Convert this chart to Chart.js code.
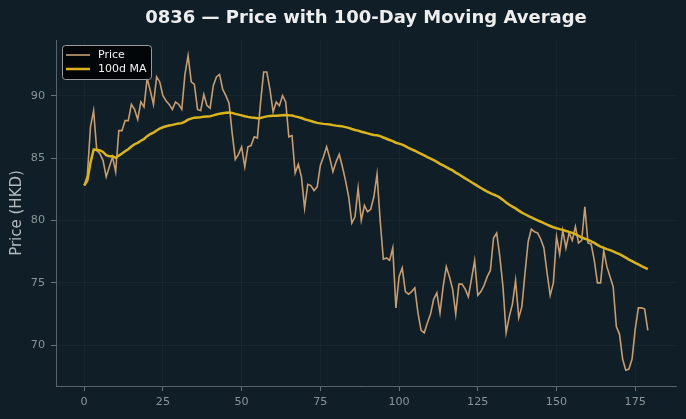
<!DOCTYPE html>
<html><head><meta charset="utf-8">
<script src="https://cdn.jsdelivr.net/npm/chart.js@4.4.1/dist/chart.umd.min.js"></script>
<style>html,body{margin:0;padding:0;background:#101f27;}#wrap{width:686px;height:419px;}</style>
</head><body><div id="wrap"><canvas id="c" width="686" height="419"></canvas></div>
<script>
const chartTitle = "0836 — Price with 100-Day Moving Average";
const yAxisLabel = "Price (HKD)";
const priceLabel = "Price";
const maLabel = "100d MA";
const xTickValues = [0, 25, 50, 75, 100, 125, 150, 175];
const yTickValues = [70, 75, 80, 85, 90];

const price = [
82.8,83.6,87.5,88.8,85.6,85.35,84.8,83.5,84.3,85.1,
83.9,87.2,87.2,88.0,88.0,89.3,88.9,88.1,89.5,89.1,
91.4,90.4,89.3,91.5,91.1,90.0,89.6,89.3,88.9,89.5,
89.3,88.9,91.7,93.2,91.1,90.9,88.9,88.8,90.1,89.2,
89.0,90.8,91.5,91.7,90.5,90.0,89.4,87.0,84.9,85.3,
85.9,84.3,85.9,86.0,86.7,86.6,89.4,91.9,91.9,90.5,
88.7,89.5,89.2,90.0,89.5,86.7,86.8,83.8,84.5,83.5,
81.0,82.9,82.8,82.4,82.7,84.4,85.1,85.9,85.0,83.9,
84.7,85.3,84.3,83.2,81.9,79.8,80.3,82.6,80.0,81.2,
80.7,80.9,81.9,83.7,80.0,76.9,77.0,76.8,77.8,73.0,
75.5,76.2,74.3,74.1,74.3,74.6,72.6,71.2,71.0,71.8,
72.5,73.7,74.2,72.6,74.7,76.3,75.5,74.5,72.5,74.9,
74.9,74.5,73.9,75.3,76.8,74.0,74.3,74.8,75.5,76.0,
78.6,79.0,77.1,74.7,71.0,72.3,73.3,75.2,72.2,73.1,
75.8,78.3,79.3,79.1,79.0,78.5,77.8,75.8,74.0,75.0,
78.7,77.3,79.2,77.8,79.0,78.4,79.5,78.2,78.4,81.1,
78.2,78.1,76.8,75.0,75.0,77.6,76.3,75.5,74.7,71.5,
70.9,68.9,68.0,68.1,68.9,71.3,73.0,73.0,72.9,71.2
];

const ma100 = [
82.80,83.20,84.63,85.68,85.66,85.61,85.49,85.24,85.14,85.14,
85.02,85.20,85.36,85.55,85.71,85.93,86.11,86.22,86.39,86.53,
86.76,86.93,87.03,87.21,87.37,87.47,87.55,87.61,87.66,87.72,
87.77,87.80,87.92,88.08,88.16,88.24,88.26,88.27,88.32,88.34,
88.36,88.42,88.49,88.56,88.60,88.63,88.65,88.62,88.54,88.48,
88.42,88.35,88.30,88.26,88.23,88.20,88.22,88.28,88.34,88.38,
88.39,88.40,88.42,88.44,88.46,88.43,88.41,88.34,88.28,88.21,
88.11,88.04,87.97,87.89,87.82,87.78,87.74,87.72,87.69,87.64,
87.60,87.57,87.54,87.48,87.42,87.33,87.25,87.20,87.11,87.05,
86.98,86.91,86.85,86.83,86.76,86.65,86.55,86.45,86.36,86.23,
86.16,86.08,85.95,85.81,85.69,85.59,85.46,85.34,85.21,85.07,
84.96,84.83,84.70,84.54,84.41,84.28,84.14,84.01,83.84,83.70,
83.53,83.37,83.22,83.06,82.91,82.75,82.60,82.46,82.32,82.19,
82.08,81.98,81.83,81.65,81.45,81.26,81.11,80.97,80.79,80.63,
80.50,80.37,80.25,80.13,80.01,79.90,79.78,79.67,79.56,79.46,
79.38,79.31,79.25,79.16,79.09,79.01,78.91,78.77,78.63,78.54,
78.44,78.32,78.20,78.05,77.90,77.81,77.71,77.62,77.53,77.41,
77.30,77.16,77.02,76.87,76.74,76.60,76.48,76.35,76.23,76.11
];

const BG = '#101f27';
const PRICE_COLOR = '#c69c70';
const MA_COLOR = '#dab41a';
const FONT = "'DejaVu Sans', sans-serif";

const n = price.length;
const xMin = -(n - 1) * 0.05, xMax = (n - 1) * 1.05;
const yLo = Math.min(...price, ...ma100), yHi = Math.max(...price, ...ma100);
const yPad = (yHi - yLo) * 0.05;

const decor = {
  id: 'decor',
  beforeDraw(chart) {
    const ctx = chart.ctx;
    ctx.save();
    ctx.fillStyle = BG;
    ctx.fillRect(0, 0, chart.width, chart.height);
    ctx.restore();
  },
  afterDraw(chart) {
    const ctx = chart.ctx, a = chart.chartArea;
    ctx.save();
    ctx.fillStyle = '#eeeeee';
    ctx.font = "bold 18px " + FONT;
    ctx.textAlign = 'center';
    ctx.textBaseline = 'middle';
    ctx.fillText(chartTitle, (a.left + a.right) / 2, 18);
    ctx.save();
    ctx.translate(17, (a.top + a.bottom) / 2);
    ctx.rotate(-Math.PI / 2);
    ctx.fillStyle = '#b4bcc0';
    ctx.font = "15px " + FONT;
    ctx.fillText(yAxisLabel, 0, 0);
    ctx.restore();
    const lx = 62.5, ly = 45.5, lw = 89, lh = 34, r = 3;
    ctx.beginPath();
    ctx.moveTo(lx + r, ly);
    ctx.arcTo(lx + lw, ly, lx + lw, ly + lh, r);
    ctx.arcTo(lx + lw, ly + lh, lx, ly + lh, r);
    ctx.arcTo(lx, ly + lh, lx, ly, r);
    ctx.arcTo(lx, ly, lx + lw, ly, r);
    ctx.closePath();
    ctx.fillStyle = 'rgba(2,4,6,0.92)';
    ctx.fill();
    ctx.strokeStyle = '#9a9a9a';
    ctx.lineWidth = 1;
    ctx.stroke();
    const ds = chart.data.datasets;
    const rows = [55, 69];
    ds.forEach((d, i) => {
      ctx.beginPath();
      ctx.moveTo(66, rows[i]);
      ctx.lineTo(90, rows[i]);
      ctx.strokeStyle = d.borderColor;
      ctx.lineWidth = d.borderWidth;
      ctx.stroke();
      ctx.fillStyle = '#f2f2f2';
      ctx.font = "11px " + FONT;
      ctx.textAlign = 'left';
      ctx.textBaseline = 'middle';
      ctx.fillText(d.label, 98, rows[i] + 0.5);
    });
    ctx.restore();
  }
};

new Chart(document.getElementById('c'), {
  type: 'line',
  data: {
    datasets: [
      { label: priceLabel, data: price.map((v, i) => ({ x: i, y: v })), borderColor: PRICE_COLOR, borderWidth: 1.6, pointRadius: 0, tension: 0, order: 2 },
      { label: maLabel, data: ma100.map((v, i) => ({ x: i, y: v })), borderColor: MA_COLOR, borderWidth: 2.5, pointRadius: 0, tension: 0, order: 1 }
    ]
  },
  options: {
    responsive: false,
    animation: false,
    layout: { padding: { top: 40, right: 10, left: 0, bottom: 0 } },
    plugins: { legend: { display: false }, title: { display: false }, tooltip: { enabled: false } },
    scales: {
      x: {
        type: 'linear', min: xMin, max: xMax,
        afterFit(s) { s.height = 33; },
        afterBuildTicks(s) { s.ticks = xTickValues.map(v => ({ value: v })); },
        ticks: { color: '#8a9398', font: { family: FONT, size: 11.2 }, padding: 4, maxRotation: 0 },
        grid: { color: 'rgba(255,255,255,0.045)', tickColor: '#7d878c', tickLength: 5, lineWidth: 0.8 },
        border: { color: '#59636a', width: 1 }
      },
      y: {
        type: 'linear', min: yLo - yPad, max: yHi + yPad,
        afterFit(s) { s.width = 56; },
        afterBuildTicks(s) { s.ticks = yTickValues.map(v => ({ value: v })); },
        ticks: { color: '#8a9398', font: { family: FONT, size: 11.2 }, padding: 6 },
        grid: { color: 'rgba(255,255,255,0.045)', tickColor: '#7d878c', tickLength: 5, lineWidth: 0.8 },
        border: { color: '#59636a', width: 1 }
      }
    }
  },
  plugins: [decor]
});
</script></body></html>
